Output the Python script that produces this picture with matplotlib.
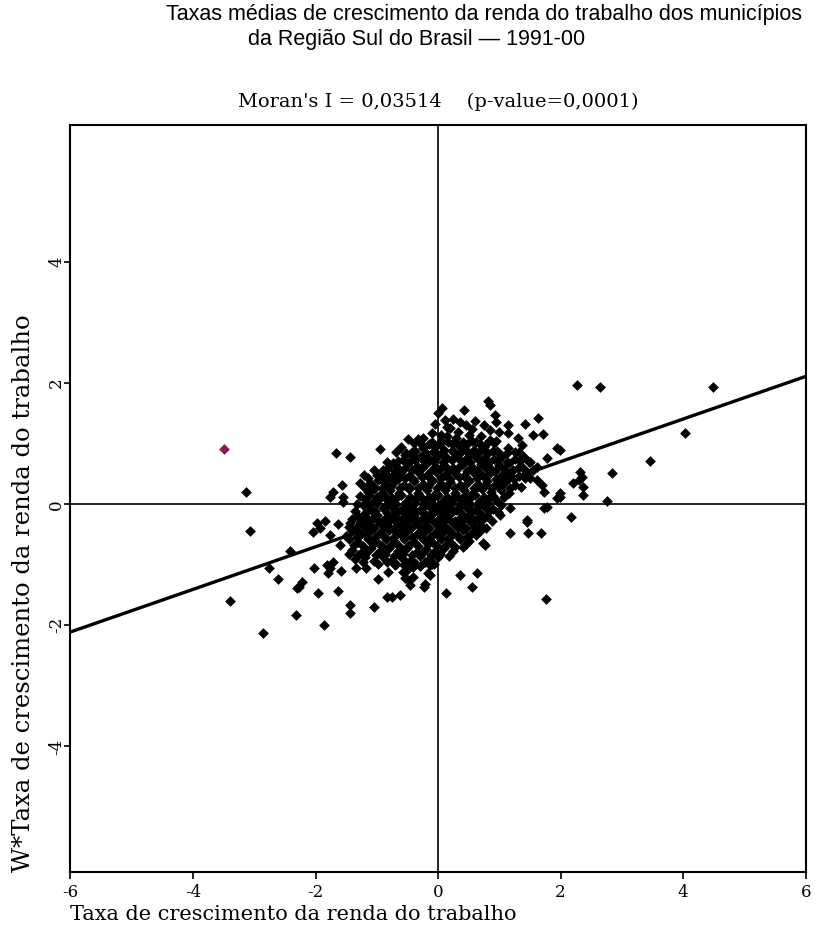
import matplotlib
matplotlib.use("Agg")
import matplotlib.pyplot as plt

plt.rcParams["axes.unicode_minus"] = False

# municipalities: (taxa, W*taxa)
nucleo = [
    (0.00, 1.50), (0.07, 1.59), (0.42, 1.55), (0.82, 1.70), (0.85, 1.64), (0.11, 1.39),
    (0.15, 1.27), (0.93, 1.47), (0.60, 1.37), (1.14, 1.31), (1.42, 1.32), (1.63, 1.42),
    (0.36, 1.35), (-0.05, 1.33), (0.20, 1.26), (0.85, 1.22), (1.14, 1.17), (1.55, 1.14),
    (1.71, 1.16), (0.33, 1.20), (0.55, 1.24), (-0.10, 1.18), (0.05, 1.15), (0.70, 1.12),
    (-0.49, 1.07), (-0.33, 1.07), (0.85, 1.06), (0.30, 1.09), (0.40, 1.02), (0.55, 1.05),
    (0.05, 1.05), (-0.15, 1.00), (0.95, 1.04), (1.37, 0.98), (0.22, 1.00), (0.68, 1.00),
    (-0.95, 0.91), (-0.42, 0.86), (1.14, 0.93), (-0.25, 0.92), (-0.05, 0.95), (0.10, 0.90),
    (0.25, 0.88), (0.42, 0.93), (0.58, 0.90), (0.75, 0.94), (0.90, 0.88), (1.25, 0.86),
    (-0.60, 0.95), (-0.83, 0.69), (-0.73, 0.68), (-0.57, 0.73), (-0.54, 0.81), (-0.42, 0.81),
    (-0.30, 0.78), (-0.15, 0.75), (0.00, 0.80), (0.15, 0.77), (0.30, 0.79), (0.45, 0.74),
    (0.60, 0.80), (0.75, 0.77), (0.92, 0.75), (1.05, 0.80), (1.25, 0.74), (1.40, 0.78),
    (-0.20, 0.85), (0.50, 0.85), (-0.78, 0.64), (-0.90, 0.56), (-0.65, 0.60), (-0.50, 0.66),
    (-0.35, 0.63), (-0.20, 0.67), (-0.05, 0.62), (0.10, 0.65), (0.25, 0.60), (0.40, 0.66),
    (0.55, 0.62), (0.70, 0.67), (0.85, 0.60), (1.00, 0.64), (1.15, 0.68), (1.30, 0.60),
    (1.50, 0.69), (1.45, 0.53), (1.62, 0.62), (-1.21, 0.48), (-1.00, 0.48), (-0.88, 0.52),
    (-0.75, 0.46), (-0.62, 0.52), (-0.48, 0.47), (-0.33, 0.53), (-0.18, 0.49), (-0.03, 0.54),
    (0.12, 0.48), (0.27, 0.52), (0.42, 0.46), (0.57, 0.53), (0.72, 0.49), (0.87, 0.54),
    (1.02, 0.47), (1.17, 0.52), (1.32, 0.46), (1.62, 0.40), (1.42, 0.43), (-1.27, 0.35),
    (-1.11, 0.35), (-0.98, 0.40), (-0.85, 0.33), (-0.70, 0.38), (-0.55, 0.32), (-0.40, 0.39),
    (-0.25, 0.34), (-0.10, 0.38), (0.05, 0.33), (0.20, 0.37), (0.35, 0.32), (0.50, 0.38),
    (0.65, 0.34), (0.80, 0.39), (0.95, 0.33), (1.10, 0.37), (1.25, 0.31), (1.70, 0.31),
    (1.17, 0.45), (-1.14, 0.20), (-1.05, 0.25), (-0.92, 0.18), (-0.78, 0.24), (-0.63, 0.19),
    (-0.48, 0.25), (-0.33, 0.18), (-0.18, 0.23), (-0.03, 0.19), (0.12, 0.24), (0.27, 0.18),
    (0.42, 0.23), (0.57, 0.19), (0.72, 0.25), (0.87, 0.20), (1.02, 0.24), (1.73, 0.20),
    (1.15, 0.18), (-1.06, 0.03), (-1.20, 0.08), (-0.95, 0.10), (-0.82, 0.05), (-0.68, 0.11),
    (-0.53, 0.04), (-0.38, 0.09), (-0.23, 0.05), (-0.08, 0.11), (0.07, 0.04), (0.22, 0.09),
    (0.37, 0.05), (0.52, 0.10), (0.67, 0.03), (0.82, 0.08), (0.97, 0.05), (-1.22, -0.02),
    (-0.90, -0.07), (-1.10, -0.10), (-0.75, -0.05), (-0.60, -0.10), (-0.45, -0.04),
    (-0.30, -0.09), (-0.15, -0.03), (0.00, -0.08), (0.15, -0.04), (0.30, -0.10), (0.45, -0.05),
    (0.60, -0.09), (0.75, -0.03), (0.90, -0.08), (1.17, -0.07), (1.73, -0.07), (1.78, -0.05),
    (-1.00, -0.18), (-1.30, -0.20), (-1.15, -0.24), (-0.85, -0.22), (-0.70, -0.17),
    (-0.55, -0.23), (-0.40, -0.18), (-0.25, -0.22), (-0.10, -0.16), (0.05, -0.21), (0.20, -0.17),
    (0.35, -0.23), (0.50, -0.18), (0.65, -0.22), (0.80, -0.19), (1.01, -0.18), (-1.27, -0.30),
    (-1.12, -0.35), (-0.97, -0.30), (-0.82, -0.36), (-0.67, -0.31), (-0.52, -0.35),
    (-0.37, -0.29), (-0.22, -0.34), (-0.07, -0.30), (0.08, -0.35), (0.23, -0.29), (0.38, -0.34),
    (0.53, -0.30), (0.68, -0.35), (1.45, -0.26), (-1.40, -0.45), (-1.25, -0.49), (-1.10, -0.43),
    (-0.95, -0.48), (-0.80, -0.42), (-0.65, -0.47), (-0.50, -0.44), (-0.35, -0.49),
    (-0.20, -0.43), (-0.05, -0.48), (0.10, -0.44), (0.25, -0.49), (0.40, -0.43), (0.55, -0.47),
    (0.70, -0.42), (1.17, -0.48), (1.47, -0.48), (1.68, -0.48), (-1.45, -0.58), (-1.30, -0.62),
    (-1.15, -0.57), (-1.00, -0.63), (-0.85, -0.58), (-0.70, -0.62), (-0.55, -0.57),
    (-0.40, -0.63), (-0.25, -0.58), (-0.10, -0.62), (0.05, -0.57), (0.20, -0.63), (0.35, -0.58),
    (0.50, -0.61), (0.73, -0.64), (0.77, -0.68), (-1.40, -0.75), (-1.25, -0.80), (-1.10, -0.73),
    (-0.95, -0.78), (-0.80, -0.72), (-0.65, -0.77), (-0.50, -0.73), (-0.35, -0.79),
    (-0.20, -0.74), (-0.05, -0.78), (0.10, -0.72), (0.25, -0.77), (0.40, -0.71), (-1.35, -0.90),
    (-1.20, -0.88), (-1.05, -0.93), (-0.90, -0.87), (-0.75, -0.92), (-0.60, -0.88),
    (-0.45, -0.93), (-0.30, -0.86), (-0.15, -0.91), (0.00, -0.87), (-0.10, -0.98),
    (-0.70, -1.00), (-0.55, -1.00), (-0.30, -1.02), (-0.13, -1.01), (-0.16, -1.14),
    (-0.41, -1.04), (-0.13, -1.17), (-0.57, -1.12), (-0.54, -1.22), (-0.46, -1.34),
    (-0.51, -1.09), (-0.82, -1.12), (-0.41, -1.21), (-0.49, -1.26), (-0.98, -1.24),
]

# second pass over the dense centre of the cloud
nucleo2 = [
    (-0.40, 1.01), (-0.26, 0.98), (-0.10, 1.02), (0.03, 0.99), (0.17, 1.03), (0.32, 0.97),
    (0.47, 1.00), (0.62, 1.02), (0.77, 0.98), (0.92, 1.01), (-0.68, 0.87), (-0.52, 0.84),
    (-0.37, 0.88), (-0.22, 0.85), (-0.08, 0.87), (0.07, 0.84), (0.22, 0.88), (0.37, 0.86),
    (0.52, 0.83), (0.67, 0.87), (0.82, 0.85), (0.97, 0.88), (1.12, 0.84), (1.32, 0.87),
    (-0.66, 0.72), (-0.48, 0.70), (-0.37, 0.73), (-0.22, 0.69), (-0.08, 0.72), (0.08, 0.70),
    (0.22, 0.73), (0.38, 0.71), (0.52, 0.69), (0.68, 0.72), (0.83, 0.70), (0.98, 0.73),
    (1.13, 0.69), (1.33, 0.72), (1.48, 0.70), (-1.05, 0.57), (-0.83, 0.58), (-0.70, 0.55),
    (-0.56, 0.58), (-0.42, 0.56), (-0.27, 0.59), (-0.12, 0.55), (0.03, 0.58), (0.18, 0.56),
    (0.33, 0.59), (0.48, 0.55), (0.63, 0.57), (0.78, 0.59), (0.93, 0.55), (1.08, 0.58),
    (1.23, 0.56), (1.38, 0.59), (1.55, 0.56), (-1.15, 0.43), (-0.93, 0.42), (-0.80, 0.45),
    (-0.66, 0.41), (-0.54, 0.44), (-0.41, 0.42), (-0.26, 0.45), (-0.11, 0.41), (0.04, 0.44),
    (0.19, 0.42), (0.34, 0.45), (0.49, 0.41), (0.64, 0.43), (0.79, 0.45), (0.94, 0.41),
    (1.09, 0.44), (1.24, 0.42), (1.50, 0.44), (-1.20, 0.27), (-1.04, 0.29), (-0.91, 0.26),
    (-0.77, 0.30), (-0.62, 0.27), (-0.47, 0.29), (-0.32, 0.26), (-0.17, 0.30), (-0.02, 0.27),
    (0.13, 0.29), (0.28, 0.26), (0.43, 0.30), (0.58, 0.27), (0.73, 0.29), (0.88, 0.26),
    (1.03, 0.30), (1.18, 0.27), (1.35, 0.29), (-1.28, 0.13), (-1.12, 0.15), (-0.99, 0.12),
    (-0.86, 0.14), (-0.75, 0.11), (-0.60, 0.15), (-0.45, 0.12), (-0.30, 0.14), (-0.15, 0.12),
    (0.00, 0.15), (0.15, 0.12), (0.30, 0.14), (0.45, 0.11), (0.60, 0.15), (0.75, 0.12),
    (0.90, 0.14), (1.08, 0.12), (-1.33, 0.01), (-1.15, -0.01), (-1.00, 0.02), (-0.83, -0.01),
    (-0.68, 0.01), (-0.53, -0.02), (-0.38, 0.02), (-0.23, -0.01), (-0.08, 0.01), (0.07, -0.02),
    (0.22, 0.02), (0.37, -0.01), (0.52, 0.01), (0.67, -0.02), (0.82, 0.02), (1.02, -0.01),
    (-1.35, -0.12), (-1.20, -0.14), (-1.03, -0.11), (-0.83, -0.14), (-0.68, -0.12),
    (-0.53, -0.15), (-0.38, -0.12), (-0.23, -0.14), (-0.08, -0.11), (0.08, -0.14),
    (0.23, -0.12), (0.38, -0.15), (0.53, -0.12), (0.68, -0.14), (0.83, -0.11), (0.98, -0.13),
    (-1.40, -0.25), (-1.23, -0.27), (-1.08, -0.24), (-0.92, -0.27), (-0.77, -0.25),
    (-0.62, -0.28), (-0.47, -0.25), (-0.32, -0.27), (-0.17, -0.24), (-0.02, -0.27),
    (0.13, -0.25), (0.28, -0.28), (0.43, -0.25), (0.58, -0.26), (0.73, -0.24), (0.88, -0.27),
    (-1.45, -0.38), (-1.34, -0.40), (-1.19, -0.37), (-1.04, -0.40), (-0.89, -0.38),
    (-0.74, -0.41), (-0.59, -0.38), (-0.44, -0.40), (-0.29, -0.37), (-0.14, -0.40),
    (0.01, -0.38), (0.16, -0.41), (0.31, -0.38), (0.46, -0.40), (0.61, -0.37), (0.78, -0.39),
    (-1.50, -0.52), (-1.33, -0.54), (-1.18, -0.51), (-1.03, -0.54), (-0.88, -0.52),
    (-0.73, -0.55), (-0.58, -0.52), (-0.43, -0.54), (-0.28, -0.51), (-0.13, -0.54),
    (0.02, -0.52), (0.17, -0.55), (0.32, -0.52), (0.47, -0.54), (0.62, -0.51),
    (-1.38, -0.67), (-1.22, -0.69), (-1.07, -0.66), (-0.92, -0.69), (-0.77, -0.67),
    (-0.62, -0.70), (-0.47, -0.67), (-0.32, -0.69), (-0.17, -0.66), (-0.02, -0.69),
    (0.13, -0.67), (0.28, -0.70), (0.45, -0.66), (-1.45, -0.82), (-1.30, -0.84),
    (-1.17, -0.81), (-1.02, -0.84), (-0.87, -0.82), (-0.72, -0.85), (-0.57, -0.82),
    (-0.42, -0.84), (-0.27, -0.81), (-0.12, -0.84), (0.03, -0.82), (0.18, -0.85),
    (-1.22, -0.96), (-0.98, -0.98), (-0.83, -0.95), (-0.68, -0.98), (-0.52, -0.96),
    (-0.37, -0.97), (-0.22, -0.95), (-0.06, -0.98), (0.45, 1.30), (0.75, 1.30), (0.25, 1.40),
    (1.00, 1.20), (0.95, 1.35), (-0.25, 1.10), (1.30, 1.10), (0.15, 1.12), (0.50, 1.15),
]

esquerda = [
    (-3.13, 0.20), (-1.66, 0.84), (-1.44, 0.78), (-1.57, 0.31), (-1.71, 0.20), (-1.76, 0.12),
    (-1.55, 0.12), (-1.55, 0.03), (-1.97, -0.31), (-1.84, -0.28), (-1.63, -0.33),
    (-1.44, -0.31), (-3.07, -0.45), (-2.04, -0.46), (-1.92, -0.40), (-1.76, -0.51),
    (-1.60, -0.68), (-2.41, -0.78), (-1.71, -0.96), (-1.81, -1.01), (-2.02, -1.06),
    (-1.76, -1.06), (-1.79, -1.14), (-1.58, -1.11), (-1.34, -1.06), (-1.17, -1.06),
    (-2.76, -1.06), (-2.61, -1.24), (-2.27, -1.37), (-2.22, -1.29), (-2.30, -1.39),
    (-1.96, -1.47), (-1.63, -1.44), (-1.44, -1.67), (-1.44, -1.79), (-1.04, -1.70),
    (-0.83, -1.54), (-0.62, -1.50), (-0.75, -1.54), (-0.23, -1.36), (-0.21, -1.32),
    (-1.86, -2.00), (-2.32, -1.83), (-3.39, -1.60), (-2.85, -2.12),
]

direita = [
    (2.27, 1.97), (2.64, 1.93), (4.49, 1.93), (4.03, 1.17), (3.46, 0.71), (2.84, 0.51),
    (2.76, 0.05), (2.32, 0.53), (2.35, 0.45), (2.30, 0.40), (2.37, 0.28), (2.37, 0.15),
    (2.20, 0.35), (1.99, 0.18), (1.99, 0.12), (1.94, 0.10), (2.17, -0.21), (1.94, 0.93),
    (1.78, 0.76), (1.99, 0.89), (1.76, -1.57), (0.13, -1.47), (0.36, -1.17), (0.64, -1.14),
    (0.55, -1.37), (1.45, -0.30),
]

destaque = (-3.49, 0.91)  # highlighted municipality

reta_x = [-6, 6]
reta_y = [-2.11, 2.11]

xticks = [-6, -4, -2, 0, 2, 4, 6]
yticks = [-4, -2, 0, 2, 4]

serif = "DejaVu Serif"

fig = plt.figure(figsize=(8.15, 9.34), dpi=100)
ax = fig.add_axes([0.0865, 0.066, 0.902, 0.8])

pts = nucleo + nucleo2 + esquerda + direita
xs = [p[0] for p in pts]
ys = [p[1] for p in pts]

ax.axhline(0, color="black", lw=1.2, zorder=1)
ax.axvline(0, color="black", lw=1.2, zorder=1)
ax.scatter(xs, ys, marker="D", s=30, color="black", linewidths=0, zorder=3)
ax.scatter([destaque[0]], [destaque[1]], marker="D", s=30, color="#8a1a55",
           linewidths=0, zorder=3)
ax.plot(reta_x, reta_y, color="black", lw=2.4, zorder=4)

ax.set_xlim(-6, 6)
ax.set_ylim(-6.08, 6.26)
ax.set_xticks(xticks)
ax.set_yticks(yticks)
ax.tick_params(direction="out", length=5, width=1.2, labelsize=12)
ax.tick_params(axis="y", length=4, pad=0)
for lab in ax.get_xticklabels() + ax.get_yticklabels():
    lab.set_fontfamily(serif)
for lab in ax.get_yticklabels():
    lab.set_rotation(90)
    lab.set_va("center")
for sp in ax.spines.values():
    sp.set_linewidth(1.5)

ax.set_xlabel("Taxa de crescimento da renda do trabalho", fontfamily=serif,
              fontsize=15, loc="left", labelpad=3)
ax.set_ylabel("W*Taxa de crescimento da renda do trabalho", fontfamily=serif,
              fontsize=17.5, loc="bottom", labelpad=9)
ax.set_title("Moran's I = 0,03514    (p-value=0,0001)", fontfamily=serif,
             fontsize=14, pad=13)

fig.text(0.594, 0.996, "Taxas médias de crescimento da renda do trabalho dos municípios",
         ha="center", va="top", fontsize=15.5, fontfamily="Liberation Sans")
fig.text(0.511, 0.969, "da Região Sul do Brasil — 1991-00",
         ha="center", va="top", fontsize=15.5, fontfamily="Liberation Sans")

fig.savefig("out.png", dpi=100)
